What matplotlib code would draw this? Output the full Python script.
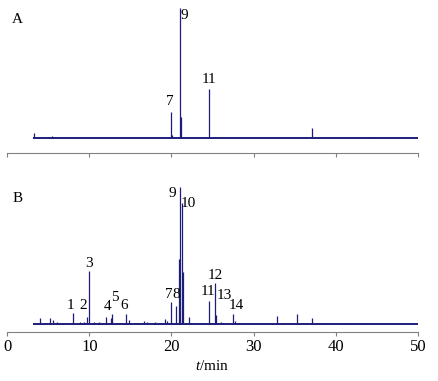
import matplotlib
matplotlib.use("Agg")
import matplotlib.pyplot as plt

plt.rcParams['font.family'] = 'Liberation Serif'
plt.rcParams['mathtext.fontset'] = 'custom'
plt.rcParams['mathtext.it'] = 'Liberation Serif:italic'
plt.rcParams['mathtext.rm'] = 'Liberation Serif'

# Chromatogram A: retention time (min) and relative peak height (%)
rt_a = [3.2, 5.4, 19.95, 20.1, 21.07, 21.12, 24.6, 37.1, 44.0]
h_a = [3.8, 1.5, 20.0, 2.0, 100.0, 16.0, 37.7, 7.7, 0.8]
labels_a = ["7", "9", "11"]
label_x_a = [19.8, 21.6, 24.6]
label_y_a = [27.9, 94.6, 45.0]

# Chromatogram B
rt_b = [4.0, 5.2, 5.6, 6.0, 8.0, 8.8, 9.3, 9.7, 9.9, 10.6, 11.2, 12.0, 12.6, 12.75,
        14.4, 14.8, 16.7, 17.0, 18.0, 19.2, 19.5, 20.0, 20.55, 20.95, 21.07, 21.25,
        21.4, 22.1, 24.6, 25.3, 25.45, 26.0, 27.45, 27.7, 32.85, 35.3, 37.07,
        39.0, 41.0, 43.0]
h_b = [4.4, 4.4, 2.9, 1.5, 7.8, 1.5, 1.5, 5.0, 38.7, 1.5, 1.5, 5.1, 4.4, 7.3,
       7.3, 2.9, 2.2, 1.5, 1.5, 3.9, 2.2, 15.8, 13.1, 47.4, 100.0, 88.0,
       38.0, 5.1, 16.8, 29.7, 6.6, 1.5, 7.3, 2.2, 5.8, 7.5, 4.4,
       0.7, 0.7, 0.7]
labels_b = ["1", "2", "3", "4", "5", "6", "7", "8", "9", "10", "11", "12", "13", "14"]
label_x_b = [7.7, 9.2, 9.9, 12.25, 13.1, 14.3, 19.7, 20.6, 20.1, 22.1, 24.4, 25.3, 26.4, 27.9]
label_y_b = [13.4, 13.4, 43.8, 12.6, 19.0, 13.4, 21.2, 21.2, 94.7, 88.0, 24.0, 35.3, 20.5, 13.4]

t_start, t_end = 3.1, 50
line_color = "#1e1e7a"
axis_color = "#808080"

fig = plt.figure(figsize=(4.39, 3.81), dpi=100)
ax_a = fig.add_axes([0.0166, 0.5984, 0.935, 0.3806])
ax_b = fig.add_axes([0.0166, 0.1294, 0.935, 0.3806])

panels = [
    (ax_a, rt_a, h_a, labels_a, label_x_a, label_y_a, (-11.5, 100), "A"),
    (ax_b, rt_b, h_b, labels_b, label_x_b, label_y_b, (-5.6, 100), "B"),
]
for ax, rt, h, labs, lx, ly, ylim, tag in panels:
    ax.hlines(0, t_start, t_end, color=line_color, lw=1.4)
    ax.vlines(rt, 0, h, color=line_color, lw=0.9)
    for s, x, y in zip(labs, lx, ly):
        ax.text(x, y, s, ha="center", va="center", fontsize=11, clip_on=False)
    ax.set_xlim(0, 50)
    ax.set_ylim(*ylim)
    for side in ["top", "right", "left"]:
        ax.spines[side].set_visible(False)
    ax.spines["bottom"].set_color(axis_color)
    ax.set_yticks([])
    ax.set_xticks([0, 10, 20, 30, 40, 50])
    ax.tick_params(axis="x", direction="out", length=3, color=axis_color, labelsize=12, pad=2)
    ax.text(0.012, 0.92, tag, transform=ax.transAxes, ha="left", va="center", fontsize=11)

ax_a.set_xticklabels([])
ax_b.set_xlabel("$t$/min", fontsize=11, labelpad=3)

fig.savefig("out.png", dpi=100)
